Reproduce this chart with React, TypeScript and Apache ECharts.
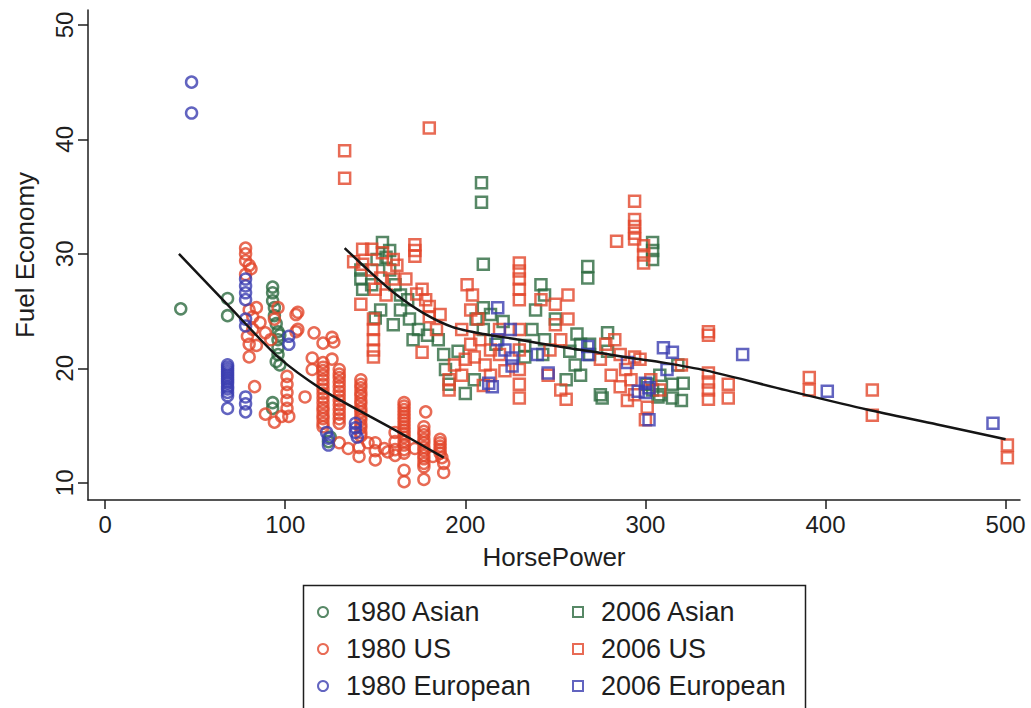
import { useEffect, useRef } from "react";
import * as echarts from "echarts";

// [horsepower, fuel economy] pairs per group
const asian1980 = [
  [42, 25.2], [68, 26.1], [68, 24.6], [93, 27.1], [93, 26.6], [93, 25.9], [94, 25.3], [94, 24.6],
  [95, 23.9], [96, 23.2], [96, 22.5], [96, 21.8], [96, 21.2], [95, 20.6], [97, 20.3], [93, 17.0],
  [93, 16.5], [125, 14.0], [124, 13.6], [97, 22.9],
];

const us1980 = [
  [78, 30.5], [78, 30.0], [78, 29.4], [80, 29.0], [81, 28.7], [78, 28.2],
  [80, 25.1], [84, 25.3], [82, 24.5], [82, 23.4], [79, 22.8], [80, 22.1], [80, 21.0], [84, 22.0],
  [89, 23.1], [92, 22.5], [96, 25.3], [94, 24.3], [86, 24.0], [83, 18.4],
  [107, 24.9], [107, 23.4], [116, 23.1],
  [101, 19.3], [101, 18.6], [101, 17.9], [101, 17.2], [101, 16.5], [102, 15.8], [111, 17.5],
  [94, 15.3], [89, 16.0], [98, 15.8],
  [106, 24.7], [106, 23.2], [121, 22.2], [126, 22.7], [127, 22.3], [115, 20.9], [115, 19.9],
  [121, 20.1], [121, 19.4], [121, 18.6], [121, 17.8], [121, 17.0], [121, 16.3], [121, 15.6], [121, 14.9],
  [121, 20.5], [121, 19.8], [121, 19.0], [121, 18.2], [121, 17.4], [121, 16.6], [121, 15.9], [121, 15.2],
  [126, 20.8], [130, 19.9], [130, 19.2], [130, 18.4], [130, 17.6], [130, 16.8], [130, 16.0], [130, 15.2], [130, 13.5],
  [130, 19.5], [130, 18.8], [130, 18.0], [130, 17.2], [130, 16.4], [130, 15.6],
  [142, 19.0], [142, 18.3], [142, 17.6], [142, 16.9], [142, 16.2], [142, 15.5], [142, 14.8], [142, 14.1],
  [142, 18.6], [142, 17.9], [142, 17.2], [142, 16.5], [142, 15.8], [142, 15.1], [142, 14.4],
  [141, 13.1], [141, 12.3],
  [150, 13.5], [150, 12.8], [150, 12.0], [157, 12.7], [161, 12.4], [161, 14.4], [161, 13.6], [161, 12.9],
  [166, 17.0], [166, 16.4], [166, 15.8], [166, 15.2], [166, 14.6], [166, 14.0], [166, 13.3], [166, 12.6],
  [166, 16.7], [166, 16.1], [166, 15.5], [166, 14.9], [166, 14.3], [166, 13.6], [166, 12.9],
  [166, 11.1], [166, 10.1],
  [178, 16.2], [177, 14.9], [177, 14.2], [177, 13.5], [177, 12.8], [177, 12.1], [177, 11.4], [177, 10.3],
  [177, 14.5], [177, 13.8], [177, 13.1], [177, 12.4], [177, 11.7],
  [186, 13.8], [186, 13.2], [186, 12.6], [188, 11.7], [188, 10.9], [186, 13.5], [186, 12.9], [187, 12.2],
  [135, 13.0], [146, 13.5], [155, 13.0], [172, 13.0], [182, 12.3],
];

const euro1980 = [
  [48, 45.0], [48, 42.3], [68, 20.3], [68, 19.9], [68, 19.5], [68, 19.1], [68, 18.7], [68, 18.2],
  [68, 17.6], [68, 16.5], [68, 20.1], [68, 19.7], [68, 19.3], [68, 18.9], [68, 18.4], [68, 17.9],
  [78, 17.5], [78, 16.9], [78, 16.2], [78, 27.8], [78, 27.2], [78, 26.6],
  [78, 26.0], [78, 24.3], [78, 23.7], [102, 22.8], [102, 22.1], [123, 14.4], [124, 13.9], [124, 13.3],
  [139, 15.2], [139, 14.8], [139, 14.4], [140, 14.0],
];

const asian2006 = [
  [209, 36.2], [209, 34.5], [210, 29.1], [268, 28.9], [268, 27.9], [304, 31.0], [304, 30.3], [304, 29.5],
  [154, 31.0], [156, 29.7], [142, 28.6], [142, 27.8], [143, 26.9], [148, 27.3], [158, 28.6], [161, 27.3],
  [164, 26.4], [153, 25.1], [150, 24.4], [160, 23.8], [164, 25.1], [169, 24.3], [168, 26.0], [174, 23.4],
  [171, 22.5], [179, 22.9], [185, 22.5], [158, 30.3], [151, 29.5],
  [188, 21.2], [189, 19.9], [191, 18.6], [206, 24.3], [210, 23.4], [214, 24.7], [217, 22.1], [196, 21.5],
  [205, 19.0], [200, 17.8], [210, 25.3], [221, 24.1], [233, 21.0],
  [242, 27.3], [244, 26.4], [239, 25.1], [237, 23.4], [244, 22.5], [250, 24.3], [243, 21.2], [233, 22.0],
  [264, 22.1], [269, 22.1], [269, 21.2], [261, 20.3], [264, 19.4], [256, 19.0], [275, 17.7], [279, 23.1],
  [279, 21.5], [276, 17.4], [258, 21.5], [262, 23.0],
  [301, 18.6], [308, 19.4], [308, 17.7], [315, 18.6], [318, 20.3], [321, 18.7], [315, 17.4], [304, 18.1],
  [307, 17.5], [320, 17.2],
];

const us2006 = [
  [133, 39.0], [133, 36.6], [180, 41.0],
  [143, 30.4], [148, 30.4], [154, 30.1], [160, 29.5], [138, 29.3], [143, 29.1], [148, 28.6], [153, 27.9],
  [160, 27.8], [150, 26.9], [156, 26.4], [162, 29.0], [167, 27.8], [142, 25.6],
  [149, 24.3], [149, 23.4], [149, 22.5], [149, 21.6], [149, 21.0],
  [172, 30.8], [172, 30.3], [172, 29.8],
  [176, 26.9], [178, 26.0], [176, 21.4], [186, 24.7], [184, 23.4], [173, 26.5], [180, 25.4], [180, 24.5],
  [201, 27.3], [204, 26.4], [203, 25.1], [198, 23.4], [203, 22.1], [200, 20.8], [198, 19.4], [191, 18.1],
  [191, 19.0], [194, 20.3], [208, 22.5], [214, 21.6], [211, 20.3], [214, 19.4], [219, 23.4], [219, 21.2],
  [207, 24.3], [205, 21.0], [210, 18.5], [222, 19.8],
  [230, 29.2], [230, 28.5], [230, 27.8], [230, 26.9], [230, 26.0], [230, 23.4], [230, 21.6], [230, 19.9],
  [230, 18.6], [230, 17.4],
  [242, 26.0], [250, 25.6], [250, 23.8], [253, 22.5], [247, 21.6], [246, 19.4], [253, 18.1], [256, 17.3],
  [257, 26.4], [257, 24.3],
  [275, 20.8], [278, 22.1], [283, 22.5], [286, 21.2], [289, 19.9], [281, 19.4], [292, 19.0], [294, 17.7],
  [303, 19.0], [297, 20.8], [308, 18.1], [300, 15.5], [286, 18.4], [294, 21.0], [301, 16.6], [320, 20.3],
  [290, 17.2],
  [294, 34.6], [294, 33.0], [294, 32.4], [294, 31.8], [294, 31.3], [284, 31.1], [299, 30.7], [299, 29.9],
  [299, 29.2],
  [335, 23.2], [335, 22.9], [335, 19.6], [335, 18.8], [335, 18.1], [335, 17.3], [346, 18.6], [346, 17.4],
  [391, 19.2], [391, 18.1], [426, 18.1], [426, 15.9], [501, 13.3], [501, 12.2],
];

const euro2006 = [
  [218, 25.3], [218, 22.5], [225, 23.4], [226, 20.9], [226, 20.2], [215, 18.4], [240, 21.2], [246, 19.6],
  [268, 21.9], [268, 21.2], [290, 20.5], [310, 21.8], [312, 19.9], [315, 21.4], [300, 18.7], [300, 17.9],
  [302, 18.3], [302, 15.5], [354, 21.2], [401, 18.0], [493, 15.2], [213, 18.7], [222, 21.6], [296, 18.0],
];

// smoothed trend for each model year
const trend1980 = [[41, 30.0], [69, 25.4], [96, 21.0], [121, 18.1], [147, 15.8], [168, 14.0], [188, 12.2]];
const trend2006 = [
  [133, 30.5], [148, 28.3], [162, 26.4], [177, 24.8], [193, 23.6], [210, 23.0], [230, 22.5], [252, 21.9],
  [273, 21.4], [292, 20.9], [310, 20.5], [334, 19.8], [378, 18.1], [423, 16.4], [462, 15.1], [500, 13.8],
];

const xTicks = [0, 100, 200, 300, 400, 500];
const yTicks = [10, 20, 30, 40, 50];

const GREEN = "#2d6a40";
const RED = "#e2462b";
const BLUE = "#3b3db0";
const INK = "#1e1e1e";
const FONT = "'Liberation Sans', Arial, Helvetica, sans-serif";

function scatter(name: string, data: number[][], symbol: string, color: string) {
  return {
    type: "scatter",
    name,
    data,
    symbol,
    symbolSize: 11,
    itemStyle: { color: "rgba(0,0,0,0)", borderColor: color, borderWidth: 2.5 },
    emphasis: { disabled: true },
  };
}

function trend(data: number[][]) {
  return {
    type: "line",
    data,
    smooth: 0.25,
    showSymbol: false,
    symbol: "none",
    lineStyle: { color: "#151515", width: 2.5 },
    z: 5,
    emphasis: { disabled: true },
  };
}

const legendBase = {
  orient: "vertical",
  top: 598,
  padding: 0,
  height: 110,
  itemWidth: 10,
  itemHeight: 10,
  itemGap: 9,
  selectedMode: false,
  itemStyle: { borderWidth: 2 },
  textStyle: { fontSize: 27, lineHeight: 28, color: INK, fontFamily: FONT, padding: [0, 0, 0, 13] },
};

export default function App() {
  const ref = useRef<HTMLDivElement>(null);

  useEffect(() => {
    const chart = echarts.init(ref.current!, null, { renderer: "svg" });
    chart.setOption({
      animation: false,
      backgroundColor: "#ffffff",
      textStyle: { fontFamily: FONT },
      grid: { left: 88, right: 11, top: 10, bottom: 208 },
      xAxis: {
        type: "value",
        min: -9.5,
        max: 508,
        name: "HorsePower",
        nameLocation: "middle",
        nameGap: 44,
        nameTextStyle: { fontSize: 26, color: INK, fontFamily: FONT },
        axisLine: { show: true, onZero: false, lineStyle: { color: INK, width: 1.5 } },
        axisTick: { show: true, length: 9, customValues: xTicks, lineStyle: { color: INK, width: 1.5 } },
        axisLabel: { customValues: xTicks, fontSize: 24, margin: 12, color: INK, fontFamily: FONT },
        splitLine: { show: false },
      },
      yAxis: {
        type: "value",
        min: 8.5,
        max: 51.3,
        name: "Fuel Economy",
        nameLocation: "middle",
        nameRotate: 90,
        nameGap: 50,
        nameTextStyle: { fontSize: 26, color: INK, fontFamily: FONT },
        axisLine: { show: true, onZero: false, lineStyle: { color: INK, width: 1.5 } },
        axisTick: { show: true, length: 10, customValues: yTicks, lineStyle: { color: INK, width: 1.5 } },
        axisLabel: { customValues: yTicks, rotate: 90, fontSize: 24, margin: 12, color: INK, fontFamily: FONT },
        splitLine: { show: false },
      },
      legend: [
        { ...legendBase, left: 317, data: ["1980 Asian", "1980 US", "1980 European"] },
        { ...legendBase, left: 572, data: ["2006 Asian", "2006 US", "2006 European"] },
      ],
      graphic: [
        {
          type: "rect",
          shape: { x: 303.5, y: 585.5, width: 502, height: 140 },
          style: { fill: "none", stroke: INK, lineWidth: 1.5 },
          silent: true,
        },
      ],
      series: [
        scatter("1980 Asian", asian1980, "circle", GREEN),
        scatter("1980 US", us1980, "circle", RED),
        scatter("1980 European", euro1980, "circle", BLUE),
        scatter("2006 Asian", asian2006, "square", GREEN),
        scatter("2006 US", us2006, "square", RED),
        scatter("2006 European", euro2006, "square", BLUE),
        trend(trend1980),
        trend(trend2006),
      ],
    });
    return () => chart.dispose();
  }, []);

  return (
    <div
      ref={ref}
      style={{ position: "fixed", left: 0, top: 0, width: 1031, height: 708, background: "#ffffff" }}
    />
  );
}
